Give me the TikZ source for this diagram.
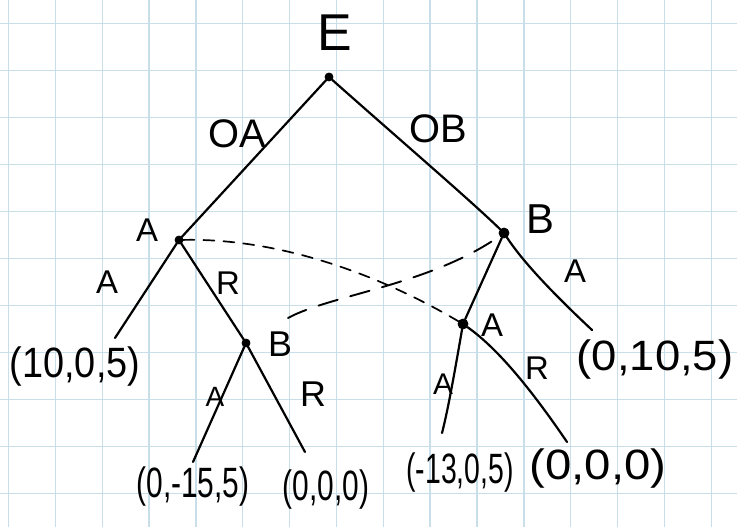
\documentclass[tikz,border=0pt]{standalone}
\usepackage{fontspec}
\setmainfont{Liberation Sans}
\definecolor{gridblue}{HTML}{C8DFEA}
\tikzset{
  gridline/.style={draw=gridblue, line width=1.4bp},
  edge/.style={line width=2.2bp, line cap=round},
  dot/.style={circle, fill=black, draw=black, line width=0.8bp, inner sep=0pt, minimum size=8bp},
  bigdot/.style={dot, minimum size=10bp},
  lbl/.style={inner sep=0pt, font=\fontsize{#1}{#1}\selectfont},
  tuple/.style={inner sep=0pt, font=\fontsize{38}{38}\selectfont},
  infoA/.style={line width=1.7bp, line cap=round, dash pattern=on 11bp off 9bp},
  infoB/.style={line width=1.9bp, line cap=round, dash pattern=on 20bp off 13bp}
}
\begin{document}
\begin{tikzpicture}[x=1bp,y=-1bp]
\useasboundingbox (0,0) rectangle (737,527);
\fill[white] (0,0) rectangle (737,527);
% grid paper
\foreach \i in {0,...,15} \draw[gridline] ({8.5+46.85*\i},0) -- ({8.5+46.85*\i},527);
\foreach \j in {0,...,10} \draw[gridline] (0,{23.5+47*\j}) -- (737,{23.5+47*\j});

% decision nodes
\node[dot] (root) at (329,77) {};
\node[dot] (nA1) at (179,240) {};
\node[bigdot] (nB1) at (504,233) {};
\node[dot] (nB2) at (246,343) {};
\node[bigdot] (nA2) at (463,324) {};

% free ends of terminal branches
\coordinate (e1) at (115,338);
\coordinate (e2) at (193,462);
\coordinate (e3) at (305,452);
\coordinate (e4) at (592,330);
\coordinate (e5) at (442,433);
\coordinate (e6) at (567,442);

% edges
\draw[edge] (root) -- (nA1);
\draw[edge] (root) .. controls (400,140) and (470,200) .. (nB1);
\draw[edge] (nA1) -- (e1);
\draw[edge] (nA1) -- (nB2);
\draw[edge] (nB2) -- (e2);
\draw[edge] (nB2) -- (e3);
\draw[edge] (nB1) -- (nA2);
\draw[edge] (nB1) .. controls (525,265) and (560,300) .. (e4);
\draw[edge] (nA2) .. controls (455,370) and (448,410) .. (e5);
\draw[edge] (nA2) .. controls (500,350) and (535,395) .. (e6);

% information sets
\draw[infoA] (nA1) .. controls (280,238) and (380,275) .. (nA2);
\draw[infoB] (288,318) .. controls (330,295) and (430,285) .. (nB1);

% labels
\node[lbl=52] (tE) at (335,33) {E};
\node[lbl=40] (tOA) at (237,134) {OA};
\node[lbl=40] (tOB) at (438,129) {OB};
\node[lbl=33] (tA1) at (147,230) {A};
\node[lbl=42] (tB1) at (540,219) {B};
\node[lbl=33] (tA1a) at (107,282) {A};
\node[lbl=33] (tA1r) at (228,283) {R};
\node[lbl=36] (tB2) at (280,344) {B};
\node[lbl=28] (tB2a) at (215,397) {A};
\node[lbl=36] (tB2r) at (313,394) {R};
\node[lbl=33] (tA2) at (492,325) {A};
\node[lbl=30] (tA2a) at (443,384) {A};
\node[lbl=33] (tA2r) at (537,368) {R};
\node[lbl=33] (tB1a) at (575,271) {A};

% payoffs
\node[tuple] (p1) at (75,367) {\scalebox{1.0}[1.12]{(10,0,5)}};
\node[tuple] (p2) at (193,487) {\scalebox{0.79}[1.12]{(0,-15,5)}};
\node[tuple] (p3) at (326,490) {\scalebox{0.79}[1.12]{(0,0,0)}};
\node[tuple] (p4) at (460,473) {\scalebox{0.75}[1.12]{(-13,0,5)}};
\node[tuple] (p5) at (598,469) {\scalebox{1.25}[1.12]{(0,0,0)}};
\node[tuple] (p6) at (655,360) {\scalebox{1.2}[1.12]{(0,10,5)}};
\end{tikzpicture}
\end{document}
